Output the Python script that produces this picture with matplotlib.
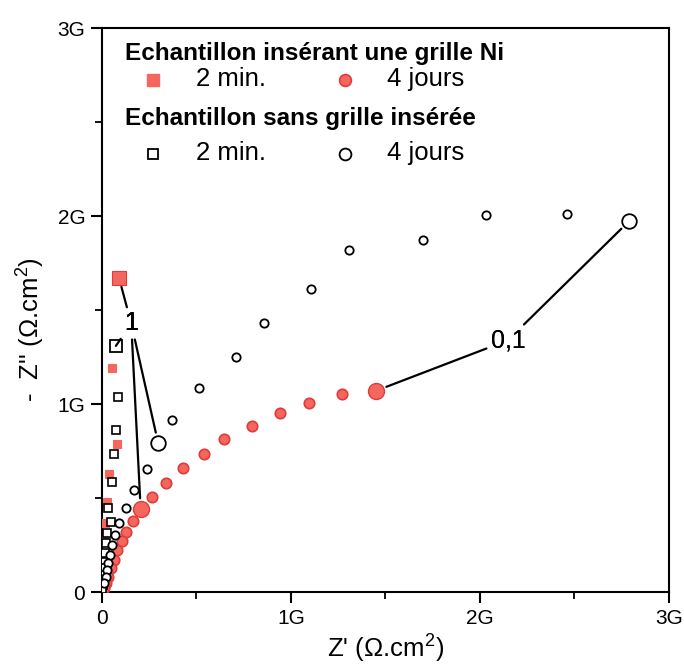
import matplotlib
matplotlib.use("Agg")
import matplotlib.pyplot as plt
from matplotlib.ticker import FixedLocator

plt.rcParams['font.family'] = ['Liberation Sans', 'DejaVu Sans']
plt.rcParams['mathtext.fontset'] = 'custom'
plt.rcParams['mathtext.rm'] = 'Liberation Sans'
plt.rcParams['mathtext.it'] = 'Liberation Sans'

# Data in G(Ohm.cm2)
grid_2min_x = [0.090, 0.051, 0.078, 0.039, 0.025, 0.016, 0.011, 0.007, 0.004, 0.002]
grid_2min_y = [1.674, 1.193, 0.786, 0.626, 0.480, 0.365, 0.277, 0.210, 0.130, 0.060]
grid_2min_big = [0]

grid_4j_x = [1.450, 1.271, 1.095, 0.942, 0.794, 0.647, 0.538, 0.430, 0.337, 0.266,
             0.205, 0.164, 0.127, 0.104, 0.081, 0.063, 0.046, 0.033, 0.021, 0.010]
grid_4j_y = [1.071, 1.052, 1.007, 0.951, 0.883, 0.814, 0.734, 0.658, 0.580, 0.507,
             0.440, 0.379, 0.321, 0.273, 0.223, 0.170, 0.126, 0.081, 0.048, 0.021]
grid_4j_big = [0, 10]

nogrid_2min_x = [0.074, 0.086, 0.074, 0.063, 0.051, 0.033, 0.046, 0.025, 0.021, 0.016,
                 0.012, 0.011, 0.009, 0.006, 0.004, 0.002]
nogrid_2min_y = [1.310, 1.036, 0.865, 0.732, 0.587, 0.449, 0.374, 0.312, 0.259, 0.206,
                 0.161, 0.126, 0.090, 0.060, 0.035, 0.015]
nogrid_2min_big = [0]

nogrid_4j_x = [2.790, 2.458, 2.030, 1.697, 1.309, 1.106, 0.859, 0.709, 0.515, 0.369,
               0.298, 0.236, 0.171, 0.125, 0.092, 0.069, 0.051, 0.042, 0.033, 0.025,
               0.019, 0.012]
nogrid_4j_y = [1.975, 2.014, 2.009, 1.872, 1.819, 1.612, 1.432, 1.252, 1.087, 0.915,
               0.791, 0.653, 0.543, 0.448, 0.365, 0.303, 0.250, 0.197, 0.153, 0.117,
               0.081, 0.050]
nogrid_4j_big = [0, 10]

tick_values = [0, 1, 2, 3]
tick_labels = ['0', '1G', '2G', '3G']
minor_values = [0.5, 1.5, 2.5]

freq_one = '1'
freq_tenth = '0,1'

RED_FACE = '#f4675f'
RED_EDGE = '#e23a3a'

fig = plt.figure(figsize=(6.84, 6.71), dpi=100)
ax = fig.add_axes([0.149, 0.1177, 0.829, 0.840])
ax.set_xlim(0, 3)
ax.set_ylim(0, 3)


def split(xs, ys, big):
    sx = [x for i, x in enumerate(xs) if i not in big]
    sy = [y for i, y in enumerate(ys) if i not in big]
    bx = [xs[i] for i in big]
    by = [ys[i] for i in big]
    return sx, sy, bx, by


# red filled squares (grid, 2 min)
sx, sy, bx, by = split(grid_2min_x, grid_2min_y, grid_2min_big)
ax.plot(sx, sy, 's', ms=5.5, mfc=RED_FACE, mec=RED_FACE, mew=0.8, zorder=3)
ax.plot(bx, by, 's', ms=10, mfc=RED_FACE, mec=RED_EDGE, mew=0.8, zorder=3)

# red filled circles (grid, 4 jours)
sx, sy, bx, by = split(grid_4j_x, grid_4j_y, grid_4j_big)
ax.plot(sx, sy, 'o', ms=7.5, mfc=RED_FACE, mec=RED_EDGE, mew=1.2, zorder=3)
ax.plot(bx, by, 'o', ms=11.5, mfc=RED_FACE, mec=RED_EDGE, mew=1.0, zorder=3)

# open squares (no grid, 2 min)
sx, sy, bx, by = split(nogrid_2min_x, nogrid_2min_y, nogrid_2min_big)
ax.plot(sx, sy, 's', ms=5.2, mfc='white', mec='black', mew=1.2, zorder=4)
ax.plot(bx, by, 's', ms=9, mfc='white', mec='black', mew=1.3, zorder=4)

# open circles (no grid, 4 jours)
sx, sy, bx, by = split(nogrid_4j_x, nogrid_4j_y, nogrid_4j_big)
ax.plot(sx, sy, 'o', ms=6, mfc='white', mec='black', mew=1.3, zorder=4)
ax.plot(bx, by, 'o', ms=10.5, mfc='white', mec='black', mew=1.3, zorder=4)

# annotations "1"
targets_one = [
    (grid_2min_x[grid_2min_big[0]], grid_2min_y[grid_2min_big[0]], 7),
    (nogrid_2min_x[nogrid_2min_big[0]], nogrid_2min_y[nogrid_2min_big[0]], 7),
    (grid_4j_x[grid_4j_big[1]], grid_4j_y[grid_4j_big[1]], 8),
    (nogrid_4j_x[nogrid_4j_big[1]], nogrid_4j_y[nogrid_4j_big[1]], 8),
]
for tx, ty, sh in targets_one:
    ax.annotate(freq_one, xy=(tx, ty), xytext=(0.155, 1.43), fontsize=18,
                ha='center', va='center', color='black',
                arrowprops=dict(arrowstyle='-', lw=1.6, color='black',
                                shrinkA=1, shrinkB=sh), zorder=5)

targets_tenth = [
    (grid_4j_x[grid_4j_big[0]], grid_4j_y[grid_4j_big[0]], 8),
    (nogrid_4j_x[nogrid_4j_big[0]], nogrid_4j_y[nogrid_4j_big[0]], 8),
]
for tx, ty, sh in targets_tenth:
    ax.annotate(freq_tenth, xy=(tx, ty), xytext=(2.148, 1.34), fontsize=18,
                ha='center', va='center', color='black',
                arrowprops=dict(arrowstyle='-', lw=1.6, color='black',
                                shrinkA=1, shrinkB=sh), zorder=5)

# axes styling
for s in ax.spines.values():
    s.set_linewidth(1.5)
ax.xaxis.set_major_locator(FixedLocator(tick_values))
ax.yaxis.set_major_locator(FixedLocator(tick_values))
ax.xaxis.set_minor_locator(FixedLocator(minor_values))
ax.yaxis.set_minor_locator(FixedLocator(minor_values))
ax.set_xticklabels(tick_labels)
ax.set_yticklabels(tick_labels)
ax.tick_params(which='major', direction='out', length=8, width=1.5, labelsize=15, pad=4)
ax.tick_params(which='minor', direction='out', length=5, width=1.3)
ax.tick_params(top=False, right=False)

ax.set_xlabel("Z' (Ω.cm$^2$)", fontsize=18.5, labelpad=4)
ax.set_ylabel("-  Z'' (Ω.cm$^2$)", fontsize=18.5, labelpad=6)
ax.yaxis.set_label_coords(-0.097, 0.465)

# custom legend
T = ax.transAxes
ax.text(0.0406, 0.9445, 'Echantillon insérant une grille Ni', transform=T,
        fontsize=17.5, fontweight='bold', ha='left', va='baseline')
ax.plot([0.0905], [0.909], 's', ms=8, mfc=RED_FACE, mec=RED_FACE, transform=T, clip_on=False)
ax.text(0.166, 0.8983, '2 min.', transform=T, fontsize=18.5, ha='left', va='baseline')
ax.plot([0.4286], [0.909], 'o', ms=8.5, mfc=RED_FACE, mec=RED_EDGE, mew=1.2, transform=T, clip_on=False)
ax.text(0.503, 0.8983, '4 jours', transform=T, fontsize=18.5, ha='left', va='baseline')

ax.text(0.0406, 0.828, 'Echantillon sans grille insérée', transform=T,
        fontsize=17.5, fontweight='bold', ha='left', va='baseline')
ax.plot([0.0905], [0.778], 's', ms=7.5, mfc='white', mec='black', mew=1.3, transform=T, clip_on=False)
ax.text(0.166, 0.7672, '2 min.', transform=T, fontsize=18.5, ha='left', va='baseline')
ax.plot([0.4286], [0.778], 'o', ms=8.5, mfc='white', mec='black', mew=1.3, transform=T, clip_on=False)
ax.text(0.503, 0.7672, '4 jours', transform=T, fontsize=18.5, ha='left', va='baseline')

fig.savefig('out.png', dpi=100)
